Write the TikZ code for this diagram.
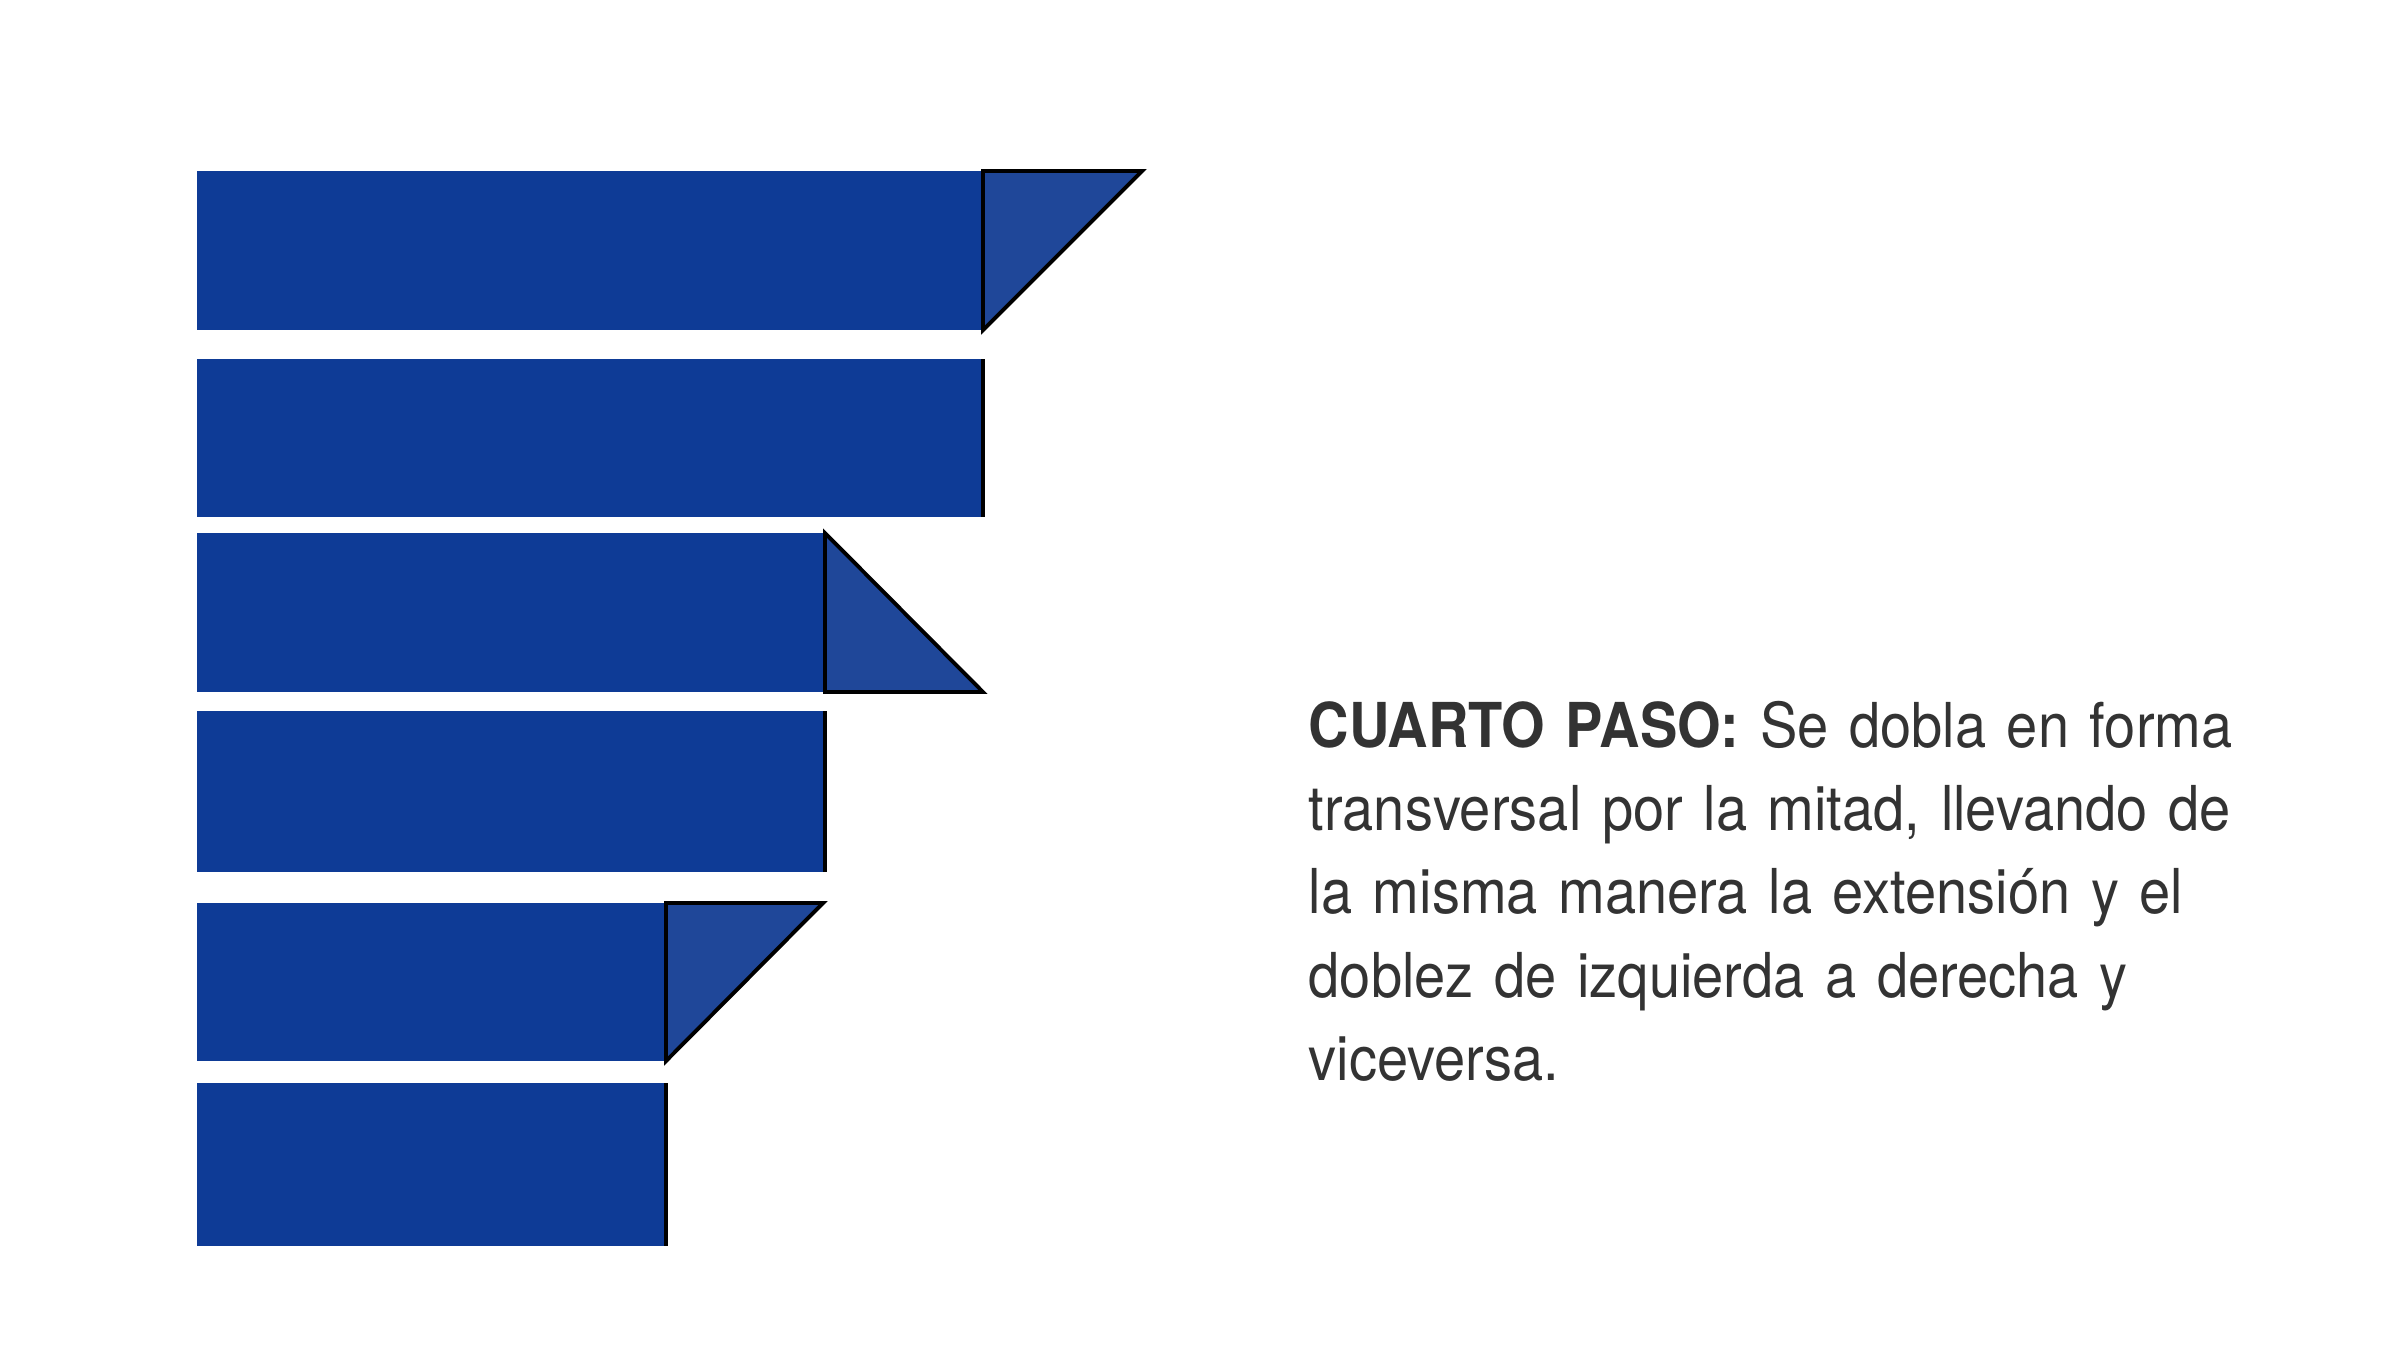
\documentclass[tikz,border=0pt]{standalone}
\usepackage{fontspec}
\setmainfont{TeX Gyre Heros}[FakeStretch=0.905]
\definecolor{stripblue}{HTML}{0E3B96}
\definecolor{flapblue}{HTML}{1F4799}
\definecolor{inkgray}{HTML}{333333}
\tikzset{
  strip/.style={fill=stripblue},
  flap/.style={fill=flapblue,draw=black,line width=1.1pt,line join=miter},
  fold/.style={draw=black,line width=1.1pt},
  pasotext/.style={text=inkgray,inner sep=0pt,text width=11cm,align=left,
    font=\fontsize{17.6}{23.7}\selectfont}
}
\begin{document}
\begin{tikzpicture}[x=0.01cm,y=-0.01cm]
                \useasboundingbox (0,0) rectangle (2400,1350);
                % tira 1 con pliegue arriba
                \fill[strip] (197,171) rectangle (983,330);
                \draw[flap] (983,171) -- (1142,171) -- (983,330) -- cycle;
                \fill[strip] (197,359) rectangle (983,517);
                \draw[fold] (983,359) -- (983,517);
                % tira 2 con pliegue abajo
                \fill[strip] (197,533) rectangle (825,692);
                \draw[flap] (825,533) -- (825,692) -- (983,692) -- cycle;
                \fill[strip] (197,711) rectangle (825,872);
                \draw[fold] (825,711) -- (825,872);
                % tira 3 con pliegue arriba
                \fill[strip] (197,903) rectangle (666,1061);
                \draw[flap] (666,903) -- (823,903) -- (666,1061) -- cycle;
                \fill[strip] (197,1083) rectangle (666,1246);
                \draw[fold] (666,1083) -- (666,1246);

                \path (1308,747) node[pasotext,anchor=base west] (paso)
                  {\textbf{CUARTO PASO:} Se dobla en forma\\
                   transversal por la mitad, llevando de\\
                   la misma manera la extensión y el\\
                   doblez de izquierda a derecha y\\
                   viceversa.};
              \end{tikzpicture}
\end{document}
